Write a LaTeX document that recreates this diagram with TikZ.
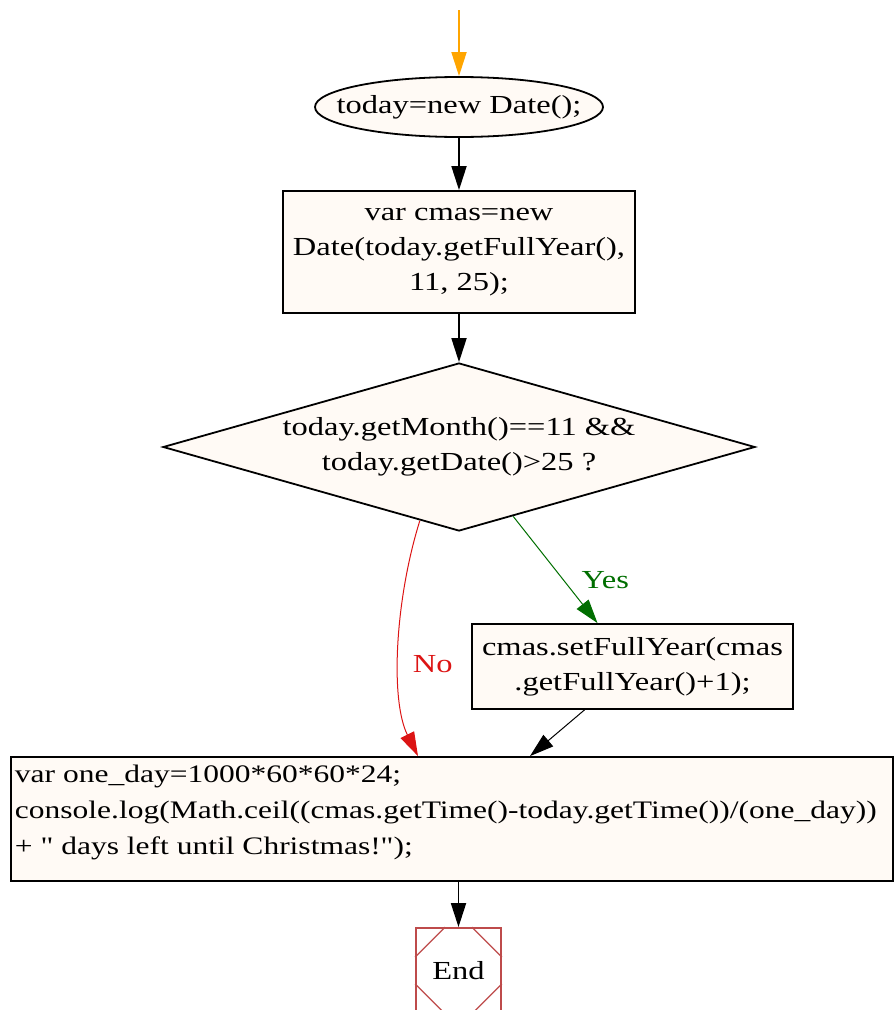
\documentclass[tikz,border=0pt]{standalone}
\usepackage{fontspec}
\setmainfont[FakeStretch=1.25,Ligatures=TeXOff]{Liberation Serif}
\usetikzlibrary{shapes.geometric,arrows.meta,calc}
\definecolor{cream}{RGB}{255,250,245}
\definecolor{endred}{RGB}{190,75,75}
\definecolor{ygreen}{RGB}{0,110,0}
\definecolor{nred}{RGB}{220,20,20}
\definecolor{startor}{RGB}{255,165,0}
\tikzset{
  x=1pt,y=-1pt,
  every node/.style={font=\fontsize{26}{35}\selectfont},
  procbox/.style={draw,line width=1.8pt,fill=cream,rectangle,inner sep=4pt,align=center},
  edge/.style={line width=1.8pt,-{Triangle[length=24pt,width=15pt]}},
  cedge/.style={line width=1pt,-{Triangle[length=24pt,width=15pt]}},
  lbl/.style={font=\fontsize{26}{30}\selectfont},
}
\begin{document}
\begin{tikzpicture}
\useasboundingbox (0,0) rectangle (894,1010);
\clip (0,0) rectangle (894,1010);
\coordinate (start) at (459,10);
\node[ellipse,draw,line width=1.8pt,fill=cream,inner sep=0pt,minimum width=288pt,minimum height=60pt] (e) at (459,107) {\makebox[0pt]{today=new Date();}};
\node[procbox,minimum width=352pt,minimum height=122pt] (b1) at (459,252) {var cmas=new\\Date(today.getFullYear(),\\11, 25);};
\node[diamond,draw,line width=1.8pt,fill=cream,inner sep=0pt,shape aspect=3.52,minimum width=592pt,minimum height=168pt,align=center] (d) at (459,447) {today.getMonth()==11 \&\&\\today.getDate()>25 ?};
\node[procbox,minimum width=321pt,minimum height=85pt] (b2) at (632.5,666.5) {cmas.setFullYear(cmas\\.getFullYear()+1);};
\node[procbox,inner sep=0pt,minimum width=882pt,minimum height=124pt,font=\fontsize{25.2}{36}\selectfont] (b3) at (452,819) {\raisebox{1pt}[0pt][0pt]{\makebox[874pt][l]{\begin{tabular}{@{}l@{}}var one\_day=1000*60*60*24;\\console.log(Math.ceil((cmas.getTime()-today.getTime())/(one\_day))\\+ " days left until Christmas!");\end{tabular}}}};
\node[draw=endred,line width=1.8pt,rectangle,minimum width=85pt,minimum height=85pt,inner sep=0pt] (end) at (458.5,970.5) {End};
\draw[endred,line width=1.3pt] ([xshift=30pt]end.north west) -- ([yshift=-30pt]end.north west)
  ([xshift=-30pt]end.north east) -- ([yshift=-30pt]end.north east)
  ([xshift=30pt]end.south west) -- ([yshift=30pt]end.south west)
  ([xshift=-30pt]end.south east) -- ([yshift=30pt]end.south east);

\draw[edge,startor] (start) -- (e.north);
\draw[edge] (e.south) -- (b1.north);
\draw[edge] (b1.south) -- (d.north);
\draw[cedge,ygreen] (d.308.7) -- ([xshift=-35pt]b2.north) node[lbl,pos=0.6,right=14pt,ygreen] {Yes};
\draw[cedge,nred] (d.242.8) .. controls (395,600) and (390,700) .. ([xshift=-34pt]b3.north) node[lbl,pos=0.57,right=10pt] {No};
\draw[cedge] ([xshift=-48pt]b2.south) -- ([xshift=78pt]b3.north);
\draw[edge] (end.north |- b3.south) -- (end.north);
\end{tikzpicture}
\end{document}
